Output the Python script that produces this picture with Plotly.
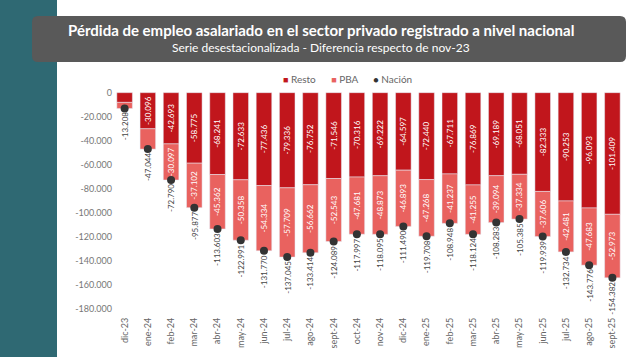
import plotly.graph_objects as go

months = ["dic-23", "ene-24", "feb-24", "mar-24", "abr-24", "may-24", "jun-24", "jul-24",
          "ago-24", "sept-24", "oct-24", "nov-24", "dic-24", "ene-25", "feb-25", "mar-25",
          "abr-25", "may-25", "jun-25", "jul-25", "ago-25", "sept-25"]
resto = [-8100, -30096, -42693, -58775, -68241, -72633, -77436, -79336, -76752, -71546,
         -70316, -69222, -64597, -72440, -67711, -76869, -69189, -68051, -82333, -90253,
         -96093, -101409]
pba = [-5108, -16948, -30097, -37102, -45362, -50358, -54334, -57709, -56662, -52543,
       -47681, -48873, -46893, -47268, -41237, -41255, -39094, -37334, -37606, -42481,
       -47683, -52973]
nacion = [-13208, -47044, -72790, -95877, -113603, -122991, -131770, -137045, -133414,
          -124089, -117997, -118095, -111490, -119708, -108948, -118124, -108283, -105385,
          -119939, -132734, -143776, -154382]
y_tickvals = [0, -20000, -40000, -60000, -80000, -100000, -120000, -140000, -160000, -180000]
y_ticktext = ["0", "-20.000", "-40.000", "-60.000", "-80.000", "-100.000", "-120.000",
              "-140.000", "-160.000", "-180.000"]
series_names = ["Resto", "PBA", "Nación"]
series_colors = ["#C1161C", "#E9625F", "#333333"]

TITLE = "Pérdida de empleo asalariado en el sector privado registrado a nivel nacional"
SUBTITLE = "Serie desestacionalizada - Diferencia respecto de nov-23"

def fmt(v):
    return f"{v:,}".replace(",", ".")

W, H = 640, 357
L, R, T, B = 113, 16, 70, 46
PW, PH = W - L - R, H - T - B
Y_MIN, Y_MAX = -182000, 18900

def px(x):
    return (x - L) / PW

def py(y):
    return 1 - (y - T) / PH

FONT = "Lato, Roboto, sans-serif"
TFONT = "Lato, Open Sans, sans-serif"

fig = go.Figure()
fig.add_trace(go.Bar(
    x=months, y=resto, name=series_names[0], marker_color=series_colors[0],
    text=[fmt(v) for v in resto], textposition="inside", insidetextanchor="middle",
    textangle=-90, textfont=dict(color="white", size=8.5, family=FONT),
))
fig.add_trace(go.Bar(
    x=months, y=pba, name=series_names[1], marker_color=series_colors[1],
    text=[fmt(v) for v in pba], textposition="inside", insidetextanchor="middle",
    textangle=-90, textfont=dict(color="white", size=8.5, family=FONT),
))
fig.add_trace(go.Scatter(
    x=months, y=nacion, name=series_names[2], mode="markers",
    marker=dict(color=series_colors[2], size=8),
))

for m, v in zip(months, nacion):
    fig.add_annotation(x=m, y=v, text=fmt(v), textangle=-90, showarrow=False,
                       yanchor="top", xanchor="center", yshift=-2,
                       font=dict(size=8, color="#444444", family=FONT))

# legend built as one text line
sp = "\u00a0"
parts = []
for name, col, sym in zip(series_names, series_colors, ["■", "■", "●"]):
    parts.append(f'<span style="color:{col};font-size:9px">{sym}</span>{sp}{name}')
legend_text = (sp * 6).join(parts)
fig.add_annotation(xref="paper", yref="paper", x=px(347), y=py(79), text=legend_text,
                   showarrow=False, xanchor="center", yanchor="middle",
                   font=dict(size=10, color="#666666", family=TFONT))

# teal strip
fig.add_shape(type="rect", xref="paper", yref="paper", x0=px(0), x1=px(57),
              y0=py(H), y1=py(0), fillcolor="#2F6973", line_width=0, layer="above")
# title box (rounded)
x0, x1, y0, y1, r = 32, 626, 16, 62, 6
path = (f"M {x0 + r},{-y0} L {x1 - r},{-y0} Q {x1},{-y0} {x1},{-(y0 + r)} "
        f"L {x1},{-(y1 - r)} Q {x1},{-y1} {x1 - r},{-y1} L {x0 + r},{-y1} "
        f"Q {x0},{-y1} {x0},{-(y1 - r)} L {x0},{-(y0 + r)} Q {x0},{-y0} {x0 + r},{-y0} Z")
fig.add_shape(type="path", xref="paper", yref="paper", xsizemode="pixel", ysizemode="pixel",
              xanchor=px(0), yanchor=py(0), path=path, fillcolor="#595959",
              line_width=0, layer="above")

fig.add_annotation(xref="paper", yref="paper", x=px(321), y=py(30), text=f"<b>{TITLE}</b>",
                   showarrow=False, xanchor="center", yanchor="middle",
                   font=dict(size=15, color="white", family=TFONT))
fig.add_annotation(xref="paper", yref="paper", x=px(321), y=py(47.5), text=SUBTITLE,
                   showarrow=False, xanchor="center", yanchor="middle",
                   font=dict(size=12, color="white", family=TFONT))

fig.update_layout(
    width=W, height=H, margin=dict(l=L, r=R, t=T, b=B, autoexpand=False),
    paper_bgcolor="white", plot_bgcolor="white",
    barmode="relative", bargap=0.33,
    uniformtext=dict(mode="hide", minsize=7),
    showlegend=False,
    font=dict(family=FONT),
)
fig.update_xaxes(range=[-0.5, len(months) - 0.5], tickangle=-90,
                 tickfont=dict(size=9, color="#666666", family=FONT),
                 showgrid=False, showline=False, ticks="", automargin=False,
                 ticklabelstandoff=4)
fig.update_yaxes(range=[Y_MIN, Y_MAX], tickvals=y_tickvals, ticktext=y_ticktext,
                 tickfont=dict(size=9, color="#777777", family=FONT),
                 showgrid=False, zeroline=False, showline=False, ticks="", automargin=False)

fig.write_html("out.html", config={"displayModeBar": False},
               post_script="document.body.style.margin='0';")
